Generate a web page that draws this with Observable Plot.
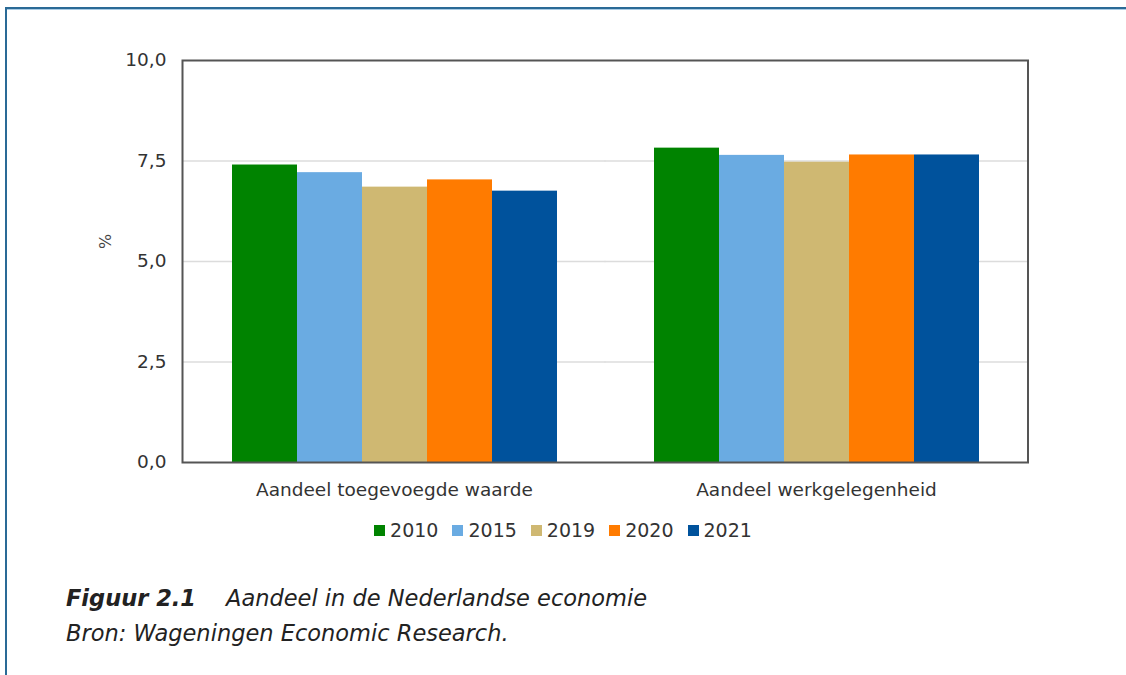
<!DOCTYPE html>
<html>
<head>
<meta charset="utf-8">
<script src="https://cdn.jsdelivr.net/npm/d3@7"></script>
<script src="https://cdn.jsdelivr.net/npm/@observablehq/plot@0.6"></script>
<style>
  html, body { margin: 0; padding: 0; background: #fff; width: 1126px; height: 675px; overflow: hidden; }
  body { position: relative; font-family: "DejaVu Sans", Verdana, sans-serif; }
  #page { position: absolute; left: 5px; top: 7px; width: 1130px; height: 680px;
          border-top: 2px solid #2a6a96; border-left: 2px solid #2a6a96; box-shadow: inset 0 1px 0 #a9cbe4; }
  #chart { position: absolute; left: 0; top: 0; }
  #legend { position: absolute; left: 0; top: 519px; width: 1126px; display: flex; justify-content: center;
            font-size: 19px; color: #333; }
  .item { display: flex; align-items: center; margin: 0 7px; }
  .sw { width: 11px; height: 11px; margin-right: 5px; }
  #cap1 { position: absolute; left: 66px; top: 585px; font-size: 22.5px; font-style: italic; color: #222; }
  #cap1 b { margin-right: 30px; }
  #cap2 { position: absolute; left: 66px; top: 620px; font-size: 22.5px; font-style: italic; color: #222; }
</style>
</head>
<body>
<div id="page"></div>
<div id="chart"></div>
<div id="legend"></div>
<div id="cap1"><b>Figuur 2.1</b>Aandeel in de Nederlandse economie</div>
<div id="cap2">Bron: Wageningen Economic Research.</div>
<script>
const categories = ["Aandeel toegevoegde waarde", "Aandeel werkgelegenheid"];
const years = ["2010", "2015", "2019", "2020", "2021"];
const colors = ["#008300", "#6aabe2", "#cfb872", "#ff7b00", "#00529c"];
const toegevoegdeWaarde = [7.40, 7.21, 6.85, 7.03, 6.75];
const werkgelegenheid = [7.82, 7.64, 7.47, 7.65, 7.65];
const yTicks = [0, 2.5, 5, 7.5, 10];
const gridTicks = [2.5, 5, 7.5];

const data = [];
years.forEach((y, i) => {
  data.push({cat: categories[0], year: y, value: toegevoegdeWaarde[i]});
  data.push({cat: categories[1], year: y, value: werkgelegenheid[i]});
});

const fmt = d => d.toFixed(1).replace(".", ",");

const plot = Plot.plot({
  width: 1126,
  height: 510,
  marginTop: 60,
  marginBottom: 48,
  marginLeft: 182,
  marginRight: 99,
  style: {fontFamily: "DejaVu Sans, Verdana, sans-serif", fontSize: "18.5px", color: "#333", background: "transparent"},
  fx: {domain: categories, paddingInner: 0.228, paddingOuter: 0.114, label: null, tickSize: 0, tickPadding: 20},
  x: {domain: years, padding: 0, axis: null},
  y: {domain: [0, 10], ticks: yTicks, tickFormat: fmt, tickSize: 0, tickPadding: 65, label: null},
  color: {domain: years, range: colors},
  marks: [
    Plot.ruleY(gridTicks, {y: d => d, stroke: "#dcdcdc", strokeWidth: 1.5, insetLeft: -48.5, insetRight: -48.5}),
    Plot.barY(data, {fx: "cat", x: "year", y: "value", fill: "year"}),
    Plot.frame({facet: "super", stroke: "#555", strokeWidth: 2, insetLeft: -49, insetRight: -48.5}),
    Plot.text(["%"], {facet: "super", frameAnchor: "left", textAnchor: "middle", dx: -126, dy: -20, rotate: -90, fontSize: 16, fill: "#444"})
  ]
});
document.getElementById("chart").appendChild(plot);

const legend = document.getElementById("legend");
years.forEach((y, i) => {
  const it = document.createElement("div");
  it.className = "item";
  it.innerHTML = `<div class="sw" style="background:${colors[i]}"></div><span>${y}</span>`;
  legend.appendChild(it);
});
</script>
</body>
</html>
